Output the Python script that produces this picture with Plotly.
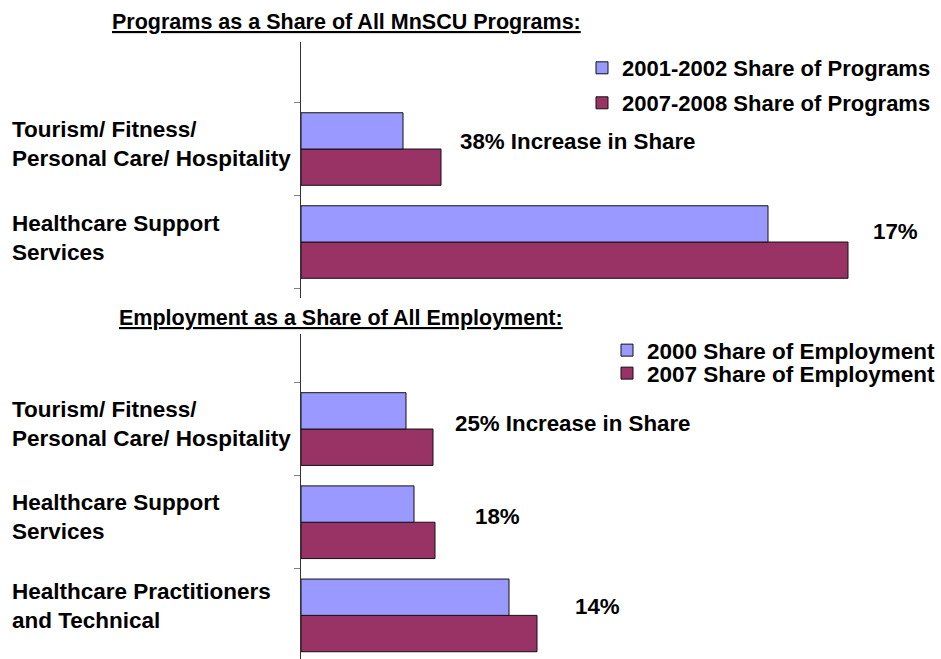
import plotly.graph_objects as go

# ---- data ----
prog_categories = ["Tourism/ Fitness/<br>Personal Care/ Hospitality", "Healthcare Support<br>Services"]
prog_2001 = [2.04, 9.34]
prog_2007 = [2.80, 10.94]
prog_changes = ["38% Increase in Share", "17%"]

emp_categories = ["Tourism/ Fitness/<br>Personal Care/ Hospitality", "Healthcare Support<br>Services",
                  "Healthcare Practitioners<br>and Technical"]
emp_2000 = [2.10, 2.26, 4.16]
emp_2007 = [2.64, 2.68, 4.72]
emp_changes = ["25% Increase in Share", "18%", "14%"]

BLUE = "#9999FF"
MAROON = "#993366"
FONT = "Liberation Sans, Arial, sans-serif"

W, H = 941, 659
def px(x):
    return x / W
def py(y):
    return 1 - y / H

fig = go.Figure()

# top chart (red first so it sits below blue in the group)
fig.add_trace(go.Bar(y=prog_categories, x=prog_2007, orientation="h", name="2007-2008 Share of Programs",
                     marker=dict(color=MAROON, line=dict(color="#111111", width=1)),
                     xaxis="x", yaxis="y", legend="legend2"))
fig.add_trace(go.Bar(y=prog_categories, x=prog_2001, orientation="h", name="2001-2002 Share of Programs",
                     marker=dict(color=BLUE, line=dict(color="#111111", width=1)),
                     xaxis="x", yaxis="y", legend="legend"))
# bottom chart
fig.add_trace(go.Bar(y=emp_categories, x=emp_2007, orientation="h", name="2007 Share of Employment",
                     marker=dict(color=MAROON, line=dict(color="#111111", width=1)),
                     xaxis="x2", yaxis="y2", legend="legend4"))
fig.add_trace(go.Bar(y=emp_categories, x=emp_2000, orientation="h", name="2000 Share of Employment",
                     marker=dict(color=BLUE, line=dict(color="#111111", width=1)),
                     xaxis="x2", yaxis="y2", legend="legend3"))

xr = [0, (W - 301) / 50]
common_x = dict(domain=[px(301), 1], range=xr, visible=False, fixedrange=True)
common_y = dict(type="category", showticklabels=False, ticks="outside", ticklen=6,
                tickcolor="#808080", tickson="boundaries", showline=True, linecolor="#333333",
                linewidth=1, showgrid=False, zeroline=False, fixedrange=True)

def leg(x, ytop, size):
    return dict(x=px(x), y=py(ytop), xanchor="left", yanchor="top", bgcolor="rgba(0,0,0,0)",
                font=dict(family=FONT, size=size, color="black", weight="bold"), itemwidth=30)

fig.update_layout(
    width=W, height=H,
    margin=dict(l=0, r=0, t=0, b=0),
    paper_bgcolor="white", plot_bgcolor="white",
    barmode="group", bargap=0.22, bargroupgap=0,
    font=dict(family=FONT, size=21, color="black"),
    xaxis=dict(**common_x, anchor="y"),
    yaxis=dict(**common_y, anchor="x", domain=[py(298), py(42)],
               categoryorder="array", categoryarray=prog_categories[::-1],
               range=[-0.602, 2.151]),
    xaxis2=dict(**common_x, anchor="y2"),
    yaxis2=dict(**common_y, anchor="x2", domain=[0, py(334)],
                categoryorder="array", categoryarray=emp_categories[::-1],
                range=[-0.468, 3.02]),
    legend=leg(582, 47, 22),
    legend2=leg(582, 82, 22),
    legend3=leg(607, 329, 22.5),
    legend4=leg(607, 352, 22.5),
    showlegend=True,
)

ann = []
# titles
ann.append(dict(text="<u>Programs as a Share of All MnSCU Programs:</u>", x=px(110), y=py(22),
                xref="paper", yref="paper", xanchor="left", yanchor="middle", showarrow=False,
                font=dict(size=21.5, weight="bold")))
ann.append(dict(text="<u>Employment as a Share of All Employment:</u>", x=px(117), y=py(318),
                xref="paper", yref="paper", xanchor="left", yanchor="middle", showarrow=False,
                font=dict(size=21.5, weight="bold")))
# category labels
label_y_top = [144, 238]
for cat, yy in zip(prog_categories, label_y_top):
    ann.append(dict(text=cat, x=px(10), y=py(yy), xref="paper", yref="paper", xanchor="left",
                    yanchor="middle", align="left", showarrow=False, font=dict(size=22.5, weight="bold")))
label_y_bot = [424, 517, 606]
for cat, yy in zip(emp_categories, label_y_bot):
    ann.append(dict(text=cat, x=px(10), y=py(yy), xref="paper", yref="paper", xanchor="left",
                    yanchor="middle", align="left", showarrow=False, font=dict(size=22.5, weight="bold")))
# change annotations
for txt, (xx, yy) in zip(prog_changes, [(458, 141), (871, 231)]):
    ann.append(dict(text=txt, x=px(xx), y=py(yy), xref="paper", yref="paper", xanchor="left",
                    yanchor="middle", showarrow=False, font=dict(size=22.3, weight="bold")))
for txt, (xx, yy) in zip(emp_changes, [(453, 424), (473, 516), (573, 606)]):
    ann.append(dict(text=txt, x=px(xx), y=py(yy), xref="paper", yref="paper", xanchor="left",
                    yanchor="middle", showarrow=False, font=dict(size=22.3, weight="bold")))
fig.update_layout(annotations=ann)

fig.write_html("out.html", config={"displayModeBar": False},
               post_script="document.body.style.margin='0';")
